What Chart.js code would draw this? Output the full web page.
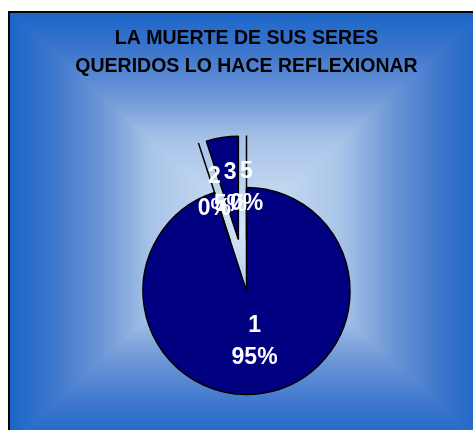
<!DOCTYPE html>
<html>
<head>
<meta charset="utf-8">
<script src="https://cdn.jsdelivr.net/npm/chart.js@4/dist/chart.umd.min.js"></script>
<style>
  html, body { margin: 0; padding: 0; background: #ffffff; }
  #wrap { width: 473px; height: 430px; }
</style>
</head>
<body>
<div id="wrap"><canvas id="chart" width="473" height="430"></canvas></div>
<script>
// Answer categories and their share of responses (percent)
const categories = ['1', '2', '3', '5'];
const values = [95, 0, 5, 0];
const titleLines = ['LA MUERTE DE SUS SERES', 'QUERIDOS LO HACE REFLEXIONAR'];

// Styling
const SLICE_FILL = '#000080';
const SLICE_EDGE = '#000000';
const EXPLODE = [0, 52, 52, 52];     // pixel pull-out of each slice
const PIE_RADIUS = 103.5;
const FONT = '"Liberation Sans", Arial, sans-serif';

const total = values.reduce((a, b) => a + b, 0);
const percentLabels = values.map(v => Math.round(v / total * 100) + '%');

// Rectangular "from centre" gradient panel with a thin dark frame
const panel = { x0: 9, y0: 11, x1: 484, y1: 445 };
const gradStops = [
  [0.00, [26, 102, 200]],
  [0.17, [58, 116, 204]],
  [0.38, [106, 148, 214]],
  [0.60, [168, 196, 232]],
  [1.00, [212, 229, 246]]
];
function stopColor(s) {
  for (let i = 1; i < gradStops.length; i++) {
    const [p1, c1] = gradStops[i];
    const [p0, c0] = gradStops[i - 1];
    if (s <= p1) {
      const t = (s - p0) / (p1 - p0);
      return c0.map((v, k) => v + (c1[k] - v) * t);
    }
  }
  return gradStops[gradStops.length - 1][1];
}
let panelCanvas = null;
function buildPanel(w, h) {
  const c = document.createElement('canvas');
  c.width = w; c.height = h;
  const g = c.getContext('2d');
  const img = g.createImageData(w, h);
  const cx = (panel.x0 + panel.x1) / 2, cy = (panel.y0 + panel.y1) / 2;
  const hw = (panel.x1 - panel.x0) / 2, hh = (panel.y1 - panel.y0) / 2;
  for (let y = 0; y < h; y++) {
    for (let x = 0; x < w; x++) {
      const i = (y * w + x) * 4;
      let col;
      if (x < panel.x0 || y < panel.y0) {
        col = [255, 255, 255];
      } else {
        const t = Math.max(Math.abs(x + 0.5 - cx) / hw, Math.abs(y + 0.5 - cy) / hh);
        col = stopColor(Math.max(0, Math.min(1, 1 - t)));
      }
      img.data[i] = col[0]; img.data[i + 1] = col[1]; img.data[i + 2] = col[2]; img.data[i + 3] = 255;
    }
  }
  g.putImageData(img, 0, 0);
  g.fillStyle = '#000000';
  g.fillRect(panel.x0 - 1, panel.y0, 2, h - panel.y0);
  g.fillRect(panel.x0 - 1, panel.y0, w - panel.x0 + 1, 2);
  return c;
}

const backgroundPlugin = {
  id: 'panelBackground',
  beforeDraw(chart) {
    if (!panelCanvas) panelCanvas = buildPanel(chart.width, chart.height);
    chart.ctx.drawImage(panelCanvas, 0, 0);
  }
};

// Pull slices out along their bisector, and draw empty slices as radial strokes
const explodePlugin = {
  id: 'explodeSlices',
  beforeDatasetsDraw(chart) {
    chart.getDatasetMeta(0).data.forEach((arc, i) => {
      if (arc.__exploded) return;
      const baseDraw = arc.draw;
      arc.draw = function (ctx) {
        const d = EXPLODE[i] || 0;
        const mid = (this.startAngle + this.endAngle) / 2;
        ctx.save();
        ctx.translate(Math.cos(mid) * d, Math.sin(mid) * d);
        baseDraw.call(this, ctx);
        ctx.restore();
      };
      arc.__exploded = true;
    });
  },
  afterDatasetsDraw(chart) {
    const ctx = chart.ctx;
    const arcs = chart.getDatasetMeta(0).data;
    ctx.save();
    ctx.strokeStyle = SLICE_EDGE;
    ctx.lineWidth = 1.5;
    arcs.forEach((arc, i) => {
      if (arc.endAngle - arc.startAngle > 0) return;
      const a = arc.startAngle, d = EXPLODE[i] || 0;
      const ox = arc.x + Math.cos(a) * d, oy = arc.y + Math.sin(a) * d;
      ctx.beginPath();
      ctx.moveTo(ox, oy);
      ctx.lineTo(ox + Math.cos(a) * arc.outerRadius, oy + Math.sin(a) * arc.outerRadius);
      ctx.stroke();
    });
    ctx.restore();
  }
};

// Category + percentage labels inside each slice
const LABEL_GAP = 32;
const labelPlugin = {
  id: 'sliceLabels',
  afterDatasetsDraw(chart) {
    const ctx = chart.ctx;
    const arcs = chart.getDatasetMeta(0).data;
    ctx.save();
    ctx.fillStyle = '#ffffff';
    ctx.font = 'bold 23px ' + FONT;
    ctx.textAlign = 'center';
    ctx.textBaseline = 'middle';
    arcs.forEach((arc, i) => {
      const mid = (arc.startAngle + arc.endAngle) / 2;
      const d = EXPLODE[i] || 0;
      const r = d + arc.outerRadius / 2;
      const lx = arc.x + Math.cos(mid) * r;
      const ly = arc.y + Math.sin(mid) * r;
      ctx.fillText(categories[i], lx, ly - LABEL_GAP / 2);
      ctx.fillText(percentLabels[i], lx, ly + LABEL_GAP / 2);
    });
    ctx.restore();
  }
};

new Chart(document.getElementById('chart'), {
  type: 'pie',
  data: {
    labels: categories,
    datasets: [{
      data: values,
      backgroundColor: SLICE_FILL,
      borderColor: SLICE_EDGE,
      borderWidth: 1.5
    }]
  },
  options: {
    responsive: false,
    devicePixelRatio: 1,
    animation: false,
    radius: PIE_RADIUS,
    layout: { padding: { left: 20, right: 0, top: 11, bottom: 0 } },
    plugins: {
      legend: { display: false },
      tooltip: { enabled: false },
      title: {
        display: true,
        text: titleLines,
        color: '#000000',
        font: { family: FONT, size: 19.5, weight: 'bold', lineHeight: 1.41 },
        padding: { top: 14, bottom: 72 }
      }
    }
  },
  plugins: [backgroundPlugin, explodePlugin, labelPlugin]
});
</script>
</body>
</html>
